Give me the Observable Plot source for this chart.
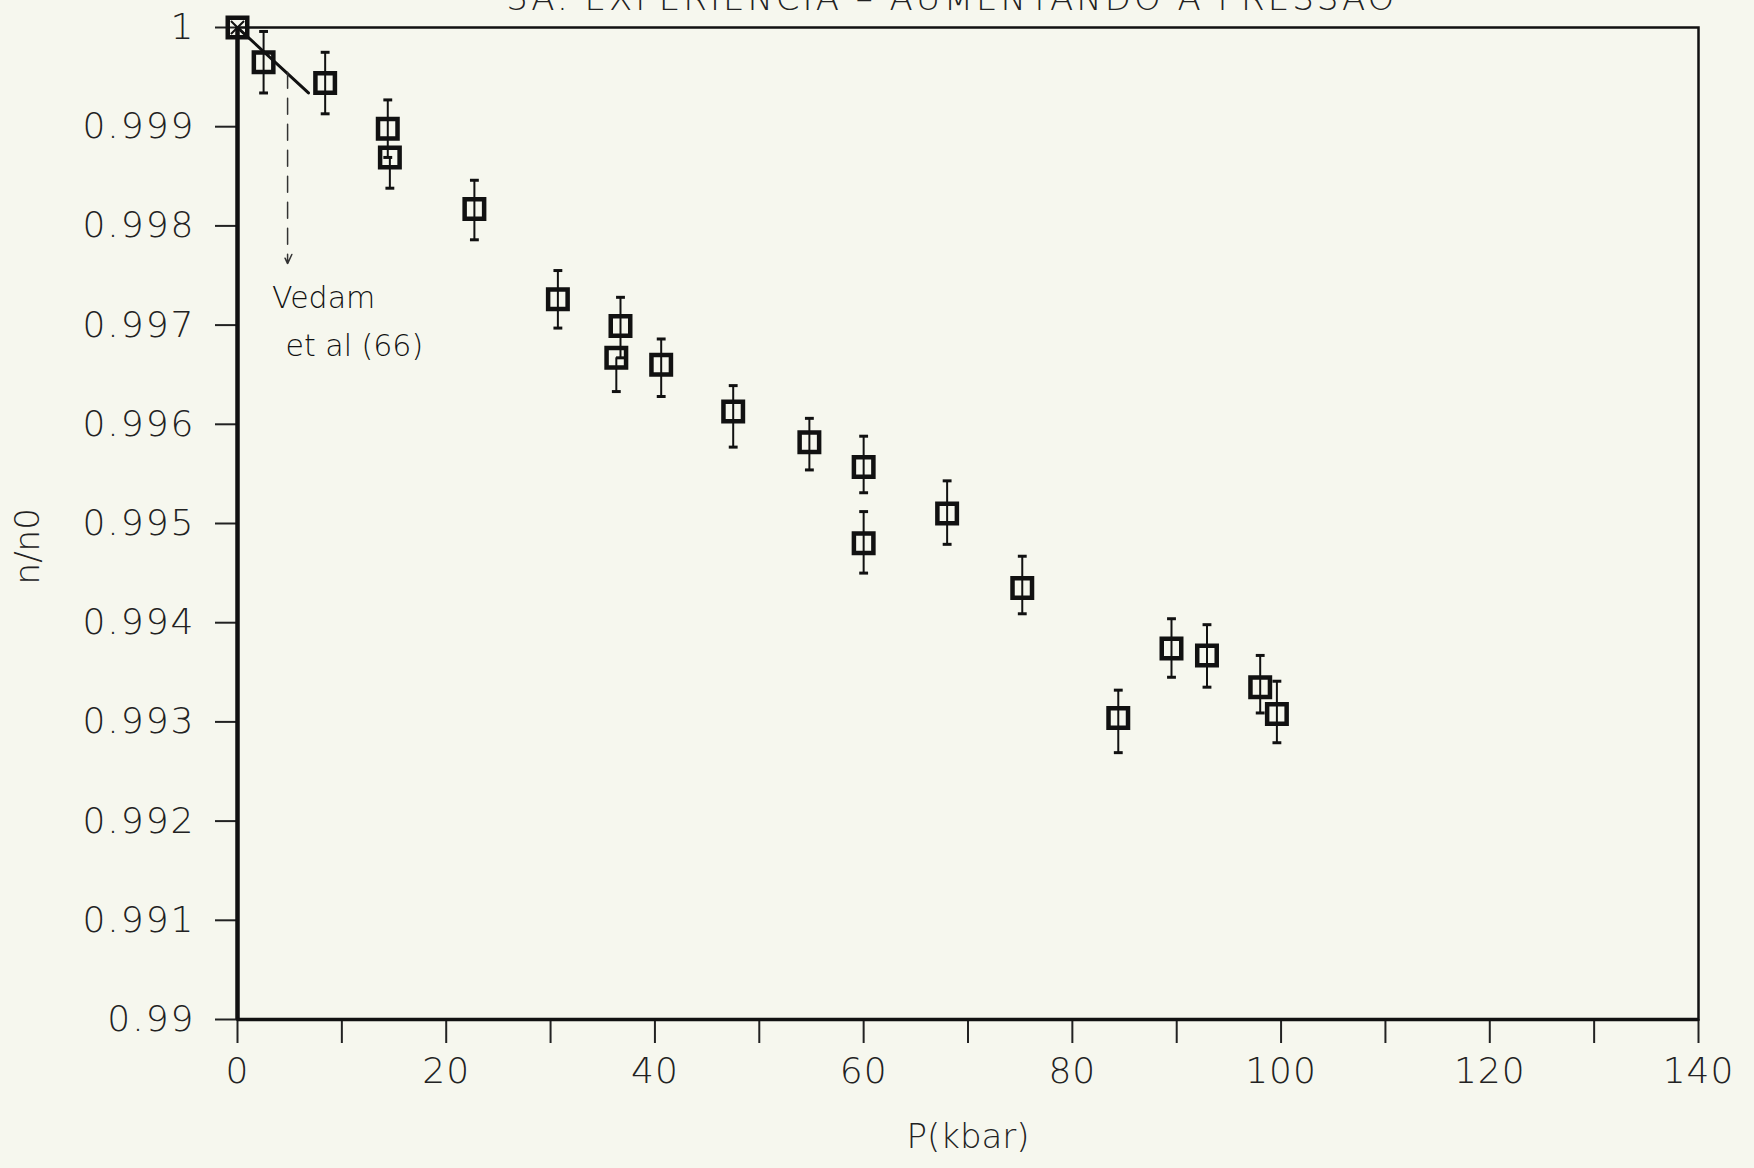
<!DOCTYPE html>
<html>
<head>
<meta charset="utf-8">
<script src="https://cdn.jsdelivr.net/npm/d3@7"></script>
<script src="https://cdn.jsdelivr.net/npm/@observablehq/plot@0.6"></script>
<style>
  html, body { margin: 0; padding: 0; background: #f6f7ee; overflow: hidden; }
  #wrap { position: relative; width: 1754px; height: 1168px; overflow: hidden; }
  #title { position: absolute; left: 0; width: 1754px; top: -22px; text-align: center; padding-left: 150px; box-sizing: border-box;
           font-family: "DejaVu Sans"; font-weight: 200; font-size: 34px; letter-spacing: 3px; color: #222; white-space: nowrap; }
  g[aria-label="y-axis tick label"] text { letter-spacing: 2px; }
  g[aria-label="x-axis tick label"] text { letter-spacing: 1px; }
</style>
</head>
<body>
<div id="wrap"><div id="title">3A. EXPERIÊNCIA – AUMENTANDO A PRESSÃO</div><div id="chart"></div></div>
<script>
// Pressure (kbar) and relative refractive index n/n0
const pressure = [0, 2.5, 8.4, 14.4, 14.6, 22.7, 30.7, 36.7, 36.3, 40.6, 47.5, 54.8, 60.0, 60.0, 68.0, 75.2, 84.4, 89.5, 92.9, 98.0, 99.6];
const ratio    = [1.0, 0.99965, 0.99944, 0.99898, 0.99869, 0.99817, 0.99726, 0.99699, 0.99667, 0.99660, 0.99613, 0.99582, 0.99557, 0.99480, 0.99510, 0.99435, 0.99304, 0.99374, 0.99367, 0.99335, 0.99308];
const errUp    = [0, 0.00031, 0.00031, 0.00029, 0, 0.00029, 0.00029, 0.00029, 0, 0.00026, 0.00026, 0.00024, 0.00031, 0.00032, 0.00033, 0.00032, 0.00028, 0.00030, 0.00031, 0.00032, 0.00033];
const errDown  = [0, 0.00031, 0.00031, 0.00029, 0.00031, 0.00031, 0.00029, 0.00032, 0.00034, 0.00032, 0.00036, 0.00028, 0.00026, 0.00030, 0.00031, 0.00026, 0.00035, 0.00029, 0.00032, 0.00026, 0.00029];

// Vedam et al (66) reference curve
const vedamP = [0, 6.8];
const vedamN = [1.0, 0.99934];
const arrowP = [4.8];
const arrowFrom = [0.99955];
const arrowTo = [0.99762];
const noteText = ["Vedam", "et al (66)"];
const noteP = [3.3, 4.6];
const noteN = [0.99727, 0.99679];

const xTicks = [0, 10, 20, 30, 40, 50, 60, 70, 80, 90, 100, 110, 120, 130, 140];
const xLabels = [0, 20, 40, 60, 80, 100, 120, 140];
const yTicks = [0.99, 0.991, 0.992, 0.993, 0.994, 0.995, 0.996, 0.997, 0.998, 0.999, 1];
const xTitle = "P(kbar)";
const yTitle = "n/n0";
const yTitleAt = 0.99477;

const data = pressure.map((p, i) => ({p, n: ratio[i], lo: ratio[i] - errDown[i], hi: ratio[i] + errUp[i]}));
const bars = data.filter(d => d.hi > d.lo);
const caps = [];
data.forEach((d, i) => {
  if (errUp[i] > 0) caps.push({p: d.p, n: d.hi});
  if (errDown[i] > 0) caps.push({p: d.p, n: d.lo});
});
const vedam = vedamP.map((p, i) => ({p, n: vedamN[i]}));
const arrows = arrowP.map((p, i) => ({p, n1: arrowFrom[i], n2: arrowTo[i]}));
const notes = noteText.map((t, i) => ({t, p: noteP[i], n: noteN[i]}));

const capSymbol = {draw(ctx, size) { const w = Math.sqrt(size) / 2; ctx.moveTo(-w, 0); ctx.lineTo(w, 0); }};

const font = "DejaVu Sans";
const chart = Plot.plot({
  width: 1754,
  height: 1168,
  marginLeft: 237,
  marginRight: 56,
  marginTop: 27,
  marginBottom: 149,
  style: {background: "#f6f7ee", fontFamily: font, color: "#222", overflow: "visible"},
  x: {domain: [0, 140]},
  y: {domain: [0.99, 1]},
  marks: [
    Plot.axisY({ticks: yTicks, tickSize: 22, tickPadding: 20, strokeWidth: 2, fontSize: 36, fontWeight: 200,
      tickFormat: d => String(+d.toFixed(3)), label: null}),
    Plot.axisX({ticks: xTicks, tickSize: 24, tickPadding: 14, strokeWidth: 2, fontSize: 36, fontWeight: 200,
      tickFormat: d => xLabels.includes(d) ? String(d) : "", label: null}),
    Plot.text([yTitle], {frameAnchor: "left", y: () => yTitleAt, text: d => d, rotate: -90, dx: -209, textAnchor: "middle", fontSize: 34, fontWeight: 200, fill: "#222", style: "letter-spacing: 4px"}),
    Plot.text([xTitle], {frameAnchor: "bottom", text: d => d, dy: 118, fontSize: 34, fontWeight: 200, fill: "#222", lineAnchor: "middle"}),
    Plot.frame({stroke: "#111", strokeWidth: 2.5}),
    Plot.ruleX([0], {stroke: "#111", strokeWidth: 4.5}),
    Plot.ruleY([0.99], {stroke: "#111", strokeWidth: 3.5}),
    Plot.line(vedam, {x: "p", y: "n", stroke: "#111", strokeWidth: 3}),
    Plot.arrow(arrows, {x1: "p", y1: "n1", x2: "p", y2: "n2", stroke: "#333", strokeWidth: 1.5, strokeDasharray: "16,10", headLength: 10, headAngle: 50}),
    Plot.text(notes, {x: "p", y: "n", text: "t", textAnchor: "start", fontSize: 30, fontWeight: 200, fill: "#111"}),
    Plot.ruleX(bars, {x: "p", y1: "lo", y2: "hi", stroke: "#111", strokeWidth: 2}),
    Plot.dot(caps, {x: "p", y: "n", symbol: capSymbol, r: 5, stroke: "#111", strokeWidth: 3}),
    Plot.dot(data, {x: "p", y: "n", symbol: "square", r: 11, stroke: "#111", strokeWidth: 4.5, fill: "none"}),
    Plot.dot(data.slice(0, 1), {x: "p", y: "n", symbol: "times", r: 6, stroke: "#111", strokeWidth: 2})
  ]
});
document.getElementById("chart").appendChild(chart);
</script>
</body>
</html>
